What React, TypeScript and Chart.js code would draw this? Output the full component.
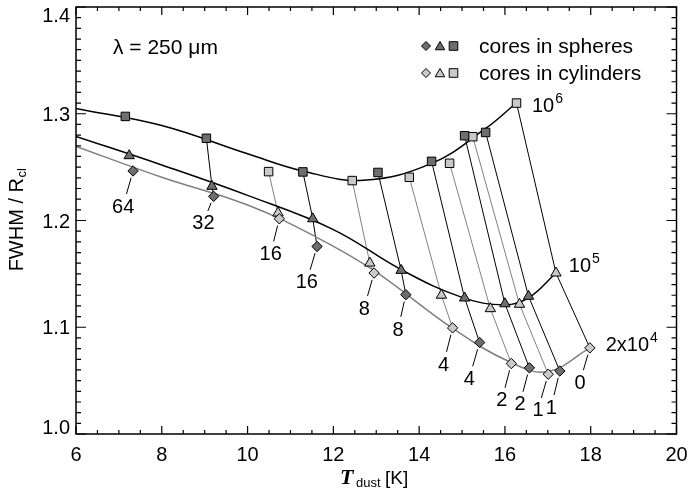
import React, { useEffect, useRef } from 'react';
import { Chart, registerables } from 'chart.js';
Chart.register(...registerables);

// ---------- axes ----------
const X_MIN = 6;
const X_MAX = 20;
const Y_MIN = 1.0;
const Y_MAX = 1.4;
const xTickValues = [6, 8, 10, 12, 14, 16, 18, 20];
const yTickValues = [1.0, 1.1, 1.2, 1.3, 1.4];

// ---------- fitted curves ----------
const curve1e6T = [6.0, 8.0, 10.0, 11.3, 12.7, 14.29, 15.55, 16.27];
const curve1e6V = [1.305, 1.289, 1.2625, 1.2462, 1.2378, 1.2535, 1.2862, 1.3103];

const curve1e5T = [6.0, 8.0, 10.0, 12.0, 13.58, 15.0, 16.0, 16.55, 17.19];
const curve1e5V = [1.2788, 1.252, 1.2235, 1.1915, 1.154, 1.128, 1.121, 1.1275, 1.1508];

const curve2e4T = [6.0, 8.0, 10.0, 11.6, 12.95, 14.78, 16.14, 17.0, 17.98];
const curve2e4V = [1.2694, 1.2405, 1.2145, 1.1845, 1.153, 1.099, 1.067, 1.0585, 1.0807];

// ---------- cores in spheres (dark markers) ----------
const sphereLabels = ['64', '32', '16', '8', '4', '2', '1'];
const sphereSqT = [7.15, 9.04, 11.29, 13.04, 14.29, 15.06, 15.55];
const sphereSqV = [1.2975, 1.277, 1.2455, 1.245, 1.2554, 1.2794, 1.2825];
const sphereTriT = [7.24, 9.17, 11.52, 13.58, 15.06, 16.0, 16.55];
const sphereTriV = [1.2607, 1.232, 1.2016, 1.1533, 1.1274, 1.122, 1.129];
const sphereDiaT = [7.33, 9.21, 11.62, 13.69, 15.41, 16.57, 17.28];
const sphereDiaV = [1.2464, 1.2226, 1.1757, 1.1305, 1.0857, 1.062, 1.059];
const sphereLabelT = [7.1, 8.97, 11.38, 13.51, 15.17, 16.35, 17.08];
const sphereLabelV = [1.214, 1.1985, 1.143, 1.0988, 1.0526, 1.0287, 1.0255];
const sphereHasLinks = [false, true, true, true, true, true, true];

// ---------- cores in cylinders (light markers) ----------
const cylLabels = ['16', '8', '4', '2', '1', '0'];
const cylSqT = [10.49, 12.44, 13.77, 14.71, 15.25, 16.27];
const cylSqV = [1.2458, 1.2374, 1.2405, 1.2536, 1.2785, 1.310];
const cylTriT = [10.71, 12.85, 14.52, 15.66, 16.34, 17.19];
const cylTriV = [1.207, 1.1601, 1.130, 1.1174, 1.1215, 1.1508];
const cylDiaT = [10.74, 12.95, 14.78, 16.15, 17.01, 17.98];
const cylDiaV = [1.2016, 1.1508, 1.0994, 1.066, 1.056, 1.0807];
const cylLabelT = [10.54, 12.72, 14.57, 15.93, 16.77, 17.75];
const cylLabelV = [1.1695, 1.1185, 1.066, 1.0324, 1.023, 1.0489];
const cylLinkDark = [false, false, false, false, false, true];

// ---------- series (density) labels ----------
const seriesBase = ['10', '10', '2x10'];
const seriesExp = ['6', '5', '4'];
const seriesLabelT = [16.63, 17.49, 18.35];
const seriesLabelV = [1.3014, 1.1517, 1.0779];

const SANS = '"Liberation Sans", Arial, Helvetica, sans-serif';
const SERIF = '"Liberation Serif", "Times New Roman", serif';
const DARK = '#6e6e6e';
const LIGHT = '#c9c9c9';
const LINK_LIGHT = '#808080';

const pts = (t: number[], v: number[]) => t.map((x, i) => ({ x, y: v[i] }));

function diamond(ctx: CanvasRenderingContext2D, x: number, y: number, r: number, fill: string) {
  ctx.beginPath();
  ctx.moveTo(x - r, y); ctx.lineTo(x, y - r); ctx.lineTo(x + r, y); ctx.lineTo(x, y + r); ctx.closePath();
  ctx.fillStyle = fill; ctx.fill(); ctx.stroke();
}
function triangle(ctx: CanvasRenderingContext2D, x: number, y: number, r: number, fill: string) {
  ctx.beginPath();
  ctx.moveTo(x, y - r);
  ctx.lineTo(x + r * 0.866, y + r * 0.5);
  ctx.lineTo(x - r * 0.866, y + r * 0.5);
  ctx.closePath();
  ctx.fillStyle = fill; ctx.fill(); ctx.stroke();
}
function square(ctx: CanvasRenderingContext2D, x: number, y: number, h: number, fill: string) {
  ctx.beginPath();
  ctx.rect(x - h, y - h, 2 * h, 2 * h);
  ctx.fillStyle = fill; ctx.fill(); ctx.stroke();
}

const decorPlugin = {
  id: 'decor',
  afterDraw(chart: any) {
    const ctx: CanvasRenderingContext2D = chart.ctx;
    const xs = chart.scales.x;
    const ys = chart.scales.y;
    const { left, right, top, bottom } = chart.chartArea;
    ctx.save();
    // frame
    ctx.strokeStyle = '#000';
    ctx.lineWidth = 1.5;
    ctx.strokeRect(left, top, right - left, bottom - top);
    // inward ticks
    ctx.lineWidth = 1.2;
    ctx.beginPath();
    for (let k = 0; k <= (X_MAX - X_MIN) * 2; k++) {
      const px = xs.getPixelForValue(X_MIN + 0.5 * k);
      const len = k % 4 === 0 ? 8 : 4;
      ctx.moveTo(px, bottom); ctx.lineTo(px, bottom - len);
      ctx.moveTo(px, top); ctx.lineTo(px, top + len);
    }
    for (let k = 0; k <= Math.round((Y_MAX - Y_MIN) * 100); k++) {
      const py = ys.getPixelForValue(Y_MIN + 0.01 * k);
      const len = k % 10 === 0 ? 10 : 5;
      ctx.moveTo(left, py); ctx.lineTo(left + len, py);
      ctx.moveTo(right, py); ctx.lineTo(right - len, py);
    }
    ctx.stroke();

    // tick labels
    ctx.fillStyle = '#000';
    ctx.font = `20px ${SANS}`;
    ctx.textAlign = 'center';
    ctx.textBaseline = 'alphabetic';
    xTickValues.forEach((v) => ctx.fillText(String(v), xs.getPixelForValue(v), 461));
    ctx.textAlign = 'right';
    yTickValues.forEach((v) => {
      const py = ys.getPixelForValue(v);
      const base = Math.min(Math.max(py + 7, top + 15), bottom);
      ctx.fillText(v.toFixed(1), 70, base);
    });

    // x title: T_dust [K]
    ctx.textAlign = 'left';
    ctx.font = `italic bold 22px ${SERIF}`;
    ctx.fillText('T', 340, 484);
    ctx.font = `13px ${SANS}`;
    ctx.fillText('dust', 356, 487);
    ctx.font = `19px ${SANS}`;
    ctx.fillText('[K]', 385, 484);

    // y title: FWHM / R_cl
    ctx.save();
    ctx.translate(23, 220);
    ctx.rotate(-Math.PI / 2);
    ctx.font = `20px ${SANS}`;
    const main = 'FWHM / R';
    const wMain = ctx.measureText(main).width;
    ctx.font = `13px ${SANS}`;
    const wSub = ctx.measureText('cl').width;
    const startX = -(wMain + wSub) / 2;
    ctx.font = `20px ${SANS}`;
    ctx.fillText(main, startX, 0);
    ctx.font = `13px ${SANS}`;
    ctx.fillText('cl', startX + wMain + 0.5, 3);
    ctx.restore();

    // lambda annotation
    ctx.font = `21px ${SANS}`;
    ctx.textAlign = 'left';
    ctx.fillText('\u03bb = 250 \u03bcm', 113, 54);

    // legend
    ctx.lineWidth = 1;
    ctx.strokeStyle = '#000';
    diamond(ctx, 426, 46, 4.5, DARK);
    triangle(ctx, 440, 47, 5.5, DARK);
    square(ctx, 453.5, 46, 4.3, DARK);
    diamond(ctx, 426, 73, 4.5, LIGHT);
    triangle(ctx, 440, 74, 5.5, LIGHT);
    square(ctx, 453.5, 73, 4.3, LIGHT);
    ctx.fillStyle = '#000';
    ctx.font = `21px ${SANS}`;
    ctx.fillText('cores in spheres', 479, 52.5);
    ctx.fillText('cores in cylinders', 479, 79.5);

    // density labels
    seriesBase.forEach((b, i) => {
      const px = xs.getPixelForValue(seriesLabelT[i]);
      const py = ys.getPixelForValue(seriesLabelV[i]);
      ctx.font = `20px ${SANS}`;
      ctx.fillText(b, px, py);
      const w = ctx.measureText(b).width;
      ctx.font = `14px ${SANS}`;
      ctx.fillText(seriesExp[i], px + w + 1, py - 9);
    });

    // point labels with leader lines
    const drawLabels = (lab: string[], dT: number[], dV: number[], lT: number[], lV: number[]) => {
      lab.forEach((s, i) => {
        const dx = xs.getPixelForValue(dT[i]);
        const dy = ys.getPixelForValue(dV[i]);
        const tx = xs.getPixelForValue(lT[i]);
        const ty = ys.getPixelForValue(lV[i]);
        const vx = tx - dx, vy = ty - dy;
        const len = Math.hypot(vx, vy);
        const ux = vx / len, uy = vy / len;
        ctx.beginPath();
        ctx.lineWidth = 1;
        ctx.strokeStyle = '#000';
        ctx.moveTo(dx + ux * 7, dy + uy * 7);
        ctx.lineTo(tx - ux * 12, ty - uy * 12);
        ctx.stroke();
        ctx.font = `20px ${SANS}`;
        ctx.textAlign = 'center';
        ctx.fillStyle = '#000';
        ctx.fillText(s, tx, ty + 7);
      });
    };
    drawLabels(sphereLabels, sphereDiaT, sphereDiaV, sphereLabelT, sphereLabelV);
    drawLabels(cylLabels, cylDiaT, cylDiaV, cylLabelT, cylLabelV);
    ctx.restore();
  },
};

export default function App() {
  const ref = useRef<HTMLCanvasElement | null>(null);
  useEffect(() => {
    if (!ref.current) return;
    const curve = (t: number[], v: number[], color: string) => ({
      data: pts(t, v),
      showLine: true,
      borderColor: color,
      borderWidth: 1.5,
      pointRadius: 0,
      tension: 0.4,
      order: 3,
    });
    const links: any[] = [];
    sphereSqT.forEach((_, i) => {
      if (!sphereHasLinks[i]) return;
      links.push({
        data: [
          { x: sphereSqT[i], y: sphereSqV[i] },
          { x: sphereTriT[i], y: sphereTriV[i] },
          { x: sphereDiaT[i], y: sphereDiaV[i] },
        ],
        showLine: true, borderColor: '#000', borderWidth: 1, pointRadius: 0, order: 4,
      });
    });
    cylSqT.forEach((_, i) => {
      links.push({
        data: [
          { x: cylSqT[i], y: cylSqV[i] },
          { x: cylTriT[i], y: cylTriV[i] },
          { x: cylDiaT[i], y: cylDiaV[i] },
        ],
        showLine: true, borderColor: cylLinkDark[i] ? '#000' : LINK_LIGHT, borderWidth: 1, pointRadius: 0, order: 4,
      });
    });
    const markers = (t: number[], v: number[], style: string, r: number, fill: string, order: number) => ({
      data: pts(t, v),
      showLine: false,
      pointStyle: style,
      pointRadius: r,
      pointBackgroundColor: fill,
      pointBorderColor: '#000',
      pointBorderWidth: 1,
      order,
    });
    const chart = new Chart(ref.current, {
      type: 'scatter',
      data: {
        datasets: [
          curve(curve1e6T, curve1e6V, '#000'),
          curve(curve1e5T, curve1e5V, '#000'),
          curve(curve2e4T, curve2e4V, '#808080'),
          ...links,
          markers(sphereSqT, sphereSqV, 'rect', 6, DARK, 2),
          markers(cylSqT, cylSqV, 'rect', 6, LIGHT, 2),
          markers(sphereTriT, sphereTriV, 'triangle', 6, DARK, 1),
          markers(cylTriT, cylTriV, 'triangle', 6, LIGHT, 1),
          markers(sphereDiaT, sphereDiaV, 'rectRot', 5.2, DARK, 0),
          markers(cylDiaT, cylDiaV, 'rectRot', 5.2, LIGHT, 0),
        ] as any,
      },
      options: {
        responsive: false,
        animation: false,
        devicePixelRatio: 1,
        layout: { padding: { left: 76, right: 13.5, top: 6, bottom: 58 } },
        plugins: { legend: { display: false }, tooltip: { enabled: false } },
        scales: {
          x: {
            type: 'linear', min: X_MIN, max: X_MAX,
            ticks: { display: false, stepSize: 2 },
            grid: { display: false, drawTicks: false },
            border: { display: false },
          },
          y: {
            type: 'linear', min: Y_MIN, max: Y_MAX,
            ticks: { display: false, stepSize: 0.1 },
            grid: { display: false, drawTicks: false },
            border: { display: false },
          },
        },
      } as any,
      plugins: [decorPlugin],
    });
    return () => chart.destroy();
  }, []);
  return (
    <div style={{ position: 'absolute', left: 0, top: 0, width: 690, height: 492, background: '#fff' }}>
      <canvas ref={ref} width={690} height={492} style={{ display: 'block' }} />
    </div>
  );
}
